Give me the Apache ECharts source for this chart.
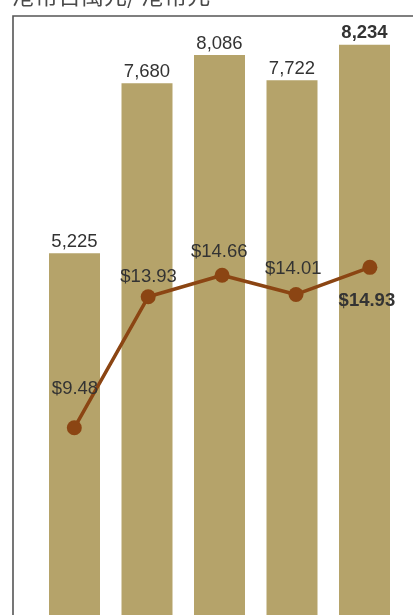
<!DOCTYPE html>
<html>
<head>
<meta charset="utf-8">
<script src="https://cdn.jsdelivr.net/npm/echarts@6/dist/echarts.min.js"></script>
<style>html,body{margin:0;padding:0;background:#fff;}#c{width:413px;height:615px;}</style>
</head>
<body>
<div id="c"></div>
<script>
const categories = ['1', '2', '3', '4', '5'];
const barValues = [5225, 7680, 8086, 7722, 8234];
const lineValues = [9.48, 13.93, 14.66, 14.01, 14.93];
const unitTitle = '港幣百萬元/ 港幣元';

const lineLabelOffsets = [[0.7, -39], [0.4, -19.5], [-2.8, -23], [-2.7, -26], [-3, 34]];
const font = '"Liberation Sans", Arial, Helvetica, sans-serif';
const last = barValues.length - 1;

const chart = echarts.init(document.getElementById('c'));
chart.setOption({
  animation: false,
  graphic: [
    { type: 'rect', left: 10.5, top: 13.5, shape: { width: 520, height: 700 }, style: { fill: 'none', stroke: '#555', lineWidth: 1.6 }, z: 0 },
    { type: 'text', left: 12, top: -16, style: { text: unitTitle, font: '23px "Noto Sans CJK TC", sans-serif', fill: '#4a4a4a' } }
  ],
  grid: [
    { left: 38.25, width: 362.5, top: 19.5, height: 600.2 },
    { left: 37.35, width: 369.5, top: 19.5, height: 600.2 }
  ],
  xAxis: [
    { type: 'category', data: categories, gridIndex: 0, show: false },
    { type: 'category', data: categories, gridIndex: 1, show: false }
  ],
  yAxis: [
    { type: 'value', gridIndex: 0, min: 0, max: 8600, show: false },
    { type: 'value', gridIndex: 1, min: 3.12, max: 23.35, show: false }
  ],
  series: [
    {
      type: 'bar', xAxisIndex: 0, yAxisIndex: 0, barWidth: 51,
      itemStyle: { color: '#B5A36A' },
      data: barValues.map((v, i) => ({
        value: v,
        label: { fontWeight: i === last ? 'bold' : 'normal' }
      })),
      label: {
        show: true, position: 'top', distance: 2,
        fontSize: 18.5, fontFamily: font, color: '#333',
        formatter: p => p.value.toLocaleString('en-US')
      }
    },
    {
      type: 'line', xAxisIndex: 1, yAxisIndex: 1,
      symbol: 'circle', symbolSize: 15,
      lineStyle: { color: '#8B4513', width: 3.5 },
      itemStyle: { color: '#8B4513' },
      data: lineValues.map((v, i) => ({
        value: v,
        label: { offset: lineLabelOffsets[i], fontWeight: i === last ? 'bold' : 'normal' }
      })),
      label: {
        show: true, position: 'inside',
        fontSize: 18.5, fontFamily: font, color: '#333',
        formatter: p => '$' + p.value.toFixed(2)
      },
      z: 5
    }
  ]
});
</script>
</body>
</html>
